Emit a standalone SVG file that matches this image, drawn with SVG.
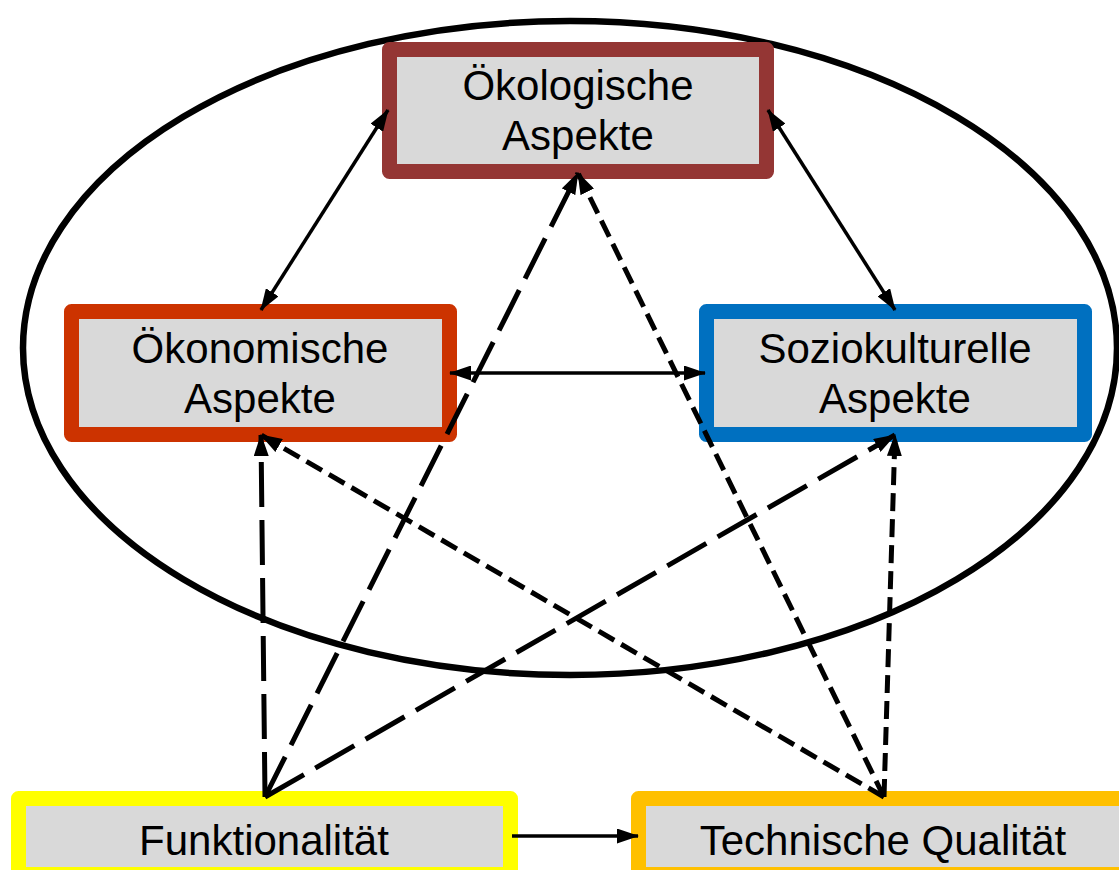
<svg xmlns="http://www.w3.org/2000/svg" width="1119" height="870" viewBox="0 0 1119 870">
<style>
.box{fill:#D9D9D9;stroke-width:15;stroke-linejoin:round}
.lbl{font-family:"Liberation Sans",Arial,sans-serif;font-size:42px;fill:#000;text-anchor:middle}
.solid{stroke:#000;stroke-width:3.5;fill:none;marker-start:url(#ah);marker-end:url(#ah)}
.long{stroke:#000;stroke-width:5;fill:none;stroke-dasharray:45 13;marker-end:url(#ah)}
.short{stroke:#000;stroke-width:5;fill:none;stroke-dasharray:18 8;marker-end:url(#ah)}
</style>
<defs>
<marker id="ah" viewBox="0 0 22 15" markerWidth="22" markerHeight="15" refX="21" refY="7.5" markerUnits="userSpaceOnUse" orient="auto-start-reverse">
<path d="M0,0 L22,7.5 L0,15 z" fill="#000"/>
</marker>
</defs>
<rect width="1119" height="870" fill="#fff"/>
<ellipse id="ellipse" cx="570" cy="348" rx="547" ry="327" fill="none" stroke="#000" stroke-width="6.5"/>
<g id="node-oekologisch">
<rect class="box" x="389.5" y="49.5" width="377" height="122" stroke="#943634"/>
<text class="lbl" x="578" y="100">Ökologische</text>
<text class="lbl" x="578" y="150">Aspekte</text>
</g>
<g id="node-oekonomisch">
<rect class="box" x="71.5" y="311.5" width="378" height="123" stroke="#CC3300"/>
<text class="lbl" x="260" y="363">Ökonomische</text>
<text class="lbl" x="260" y="413">Aspekte</text>
</g>
<g id="node-soziokulturell">
<rect class="box" x="706.5" y="311.5" width="378" height="123" stroke="#0070C0"/>
<text class="lbl" x="895" y="363">Soziokulturelle</text>
<text class="lbl" x="895" y="413">Aspekte</text>
</g>
<g id="node-funktionalitaet">
<rect class="box" x="18.5" y="798.5" width="492" height="76" stroke="#FFFF00"/>
<text class="lbl" x="264" y="855">Funktionalität</text>
</g>
<g id="node-technisch">
<rect class="box" x="638.5" y="798.5" width="488" height="76" stroke="#FFC000"/>
<text class="lbl" x="883" y="855">Technische Qualität</text>
</g>
<g id="connectors">
<line class="solid" x1="388" y1="110" x2="261" y2="310"/>
<line class="solid" x1="768" y1="110" x2="895" y2="310"/>
<line class="solid" x1="450" y1="373" x2="705" y2="373"/>
<line class="long" x1="265" y1="797" x2="578" y2="173"/>
<line class="long" x1="265" y1="797" x2="261" y2="435"/>
<line class="long" x1="265" y1="797" x2="895" y2="435"/>
<line class="short" x1="884" y1="797" x2="578" y2="173"/>
<line class="short" x1="884" y1="797" x2="261" y2="435"/>
<line class="short" x1="884" y1="797" x2="895" y2="435"/>
<line stroke="#000" stroke-width="3.5" x1="512" y1="836" x2="638" y2="836" marker-end="url(#ah)"/>
</g>
</svg>
